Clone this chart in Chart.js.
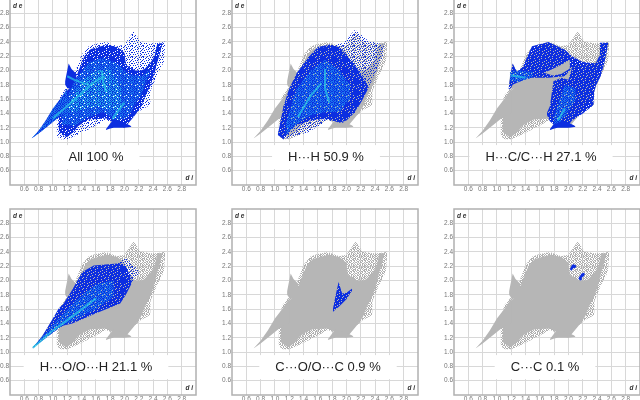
<!DOCTYPE html>
<html>
<head>
<meta charset="utf-8">
<style>
  html, body { margin: 0; background: #fff; overflow: hidden; width: 640px; height: 400px; }
  canvas { position: absolute; filter: blur(0.35px); }
</style>
<script src="https://cdn.jsdelivr.net/npm/chart.js@4"></script>
</head>
<body>
<script>
// tick labels shown on both axes
var tickValues = [0.6, 0.8, 1.0, 1.2, 1.4, 1.6, 1.8, 2.0, 2.2, 2.4, 2.6, 2.8];

var panelLabels = ['All 100 %', 'H···H 50.9 %', 'H···C/C···H 27.1 %', 'H···O/O···H 21.1 %', 'C···O/O···C 0.9 %', 'C···C 0.1 %'];
var labelCentres = [86, 94, 87, 86, 96, 91];

// outline of the whole fingerprint, sparse outer part
var outerDi  = [1.05, 1.10, 1.20, 1.30, 1.40, 1.50, 1.60, 1.74, 1.90, 2.00, 2.13, 2.22, 2.36, 2.365, 2.45, 2.55, 2.57];
var outerTop = [1.42, 1.65, 1.77, 1.95, 2.22, 2.34, 2.37, 2.40, 2.34, 2.36, 2.55, 2.41, 2.38, 2.38, 2.38, 2.40, 2.41];
var outerBot = [1.10, 1.04, 1.04, 1.08, 1.13, 1.18, 1.23, 1.31, 1.25, 1.24, 1.36, 1.44, 1.52, 1.72, 1.92, 2.12, 2.36];

// dense middle part
var coreDi  = [1.08, 1.16, 1.20, 1.30, 1.35, 1.44, 1.53, 1.75, 1.90, 2.00, 2.02, 2.15, 2.23, 2.28, 2.37, 2.42, 2.46, 2.50, 2.53];
var coreTop = [1.38, 1.55, 1.72, 1.82, 1.98, 2.20, 2.30, 2.36, 2.33, 2.25, 2.08, 2.00, 2.00, 2.02, 2.12, 2.20, 2.38, 2.38, 2.38];
var coreBot = [1.14, 1.08, 1.07, 1.15, 1.22, 1.28, 1.32, 1.33, 1.24, 1.20, 1.22, 1.38, 1.49, 1.62, 1.80, 1.96, 2.12, 2.25, 2.38];

var spikeDi  = [0.70, 0.80, 0.90, 1.00, 1.10, 1.20];
var spikeTop = [1.05, 1.16, 1.30, 1.47, 1.60, 1.75];
var spikeBot = [1.05, 1.12, 1.20, 1.28, 1.36, 1.40];

var hornDi  = [1.17, 1.20, 1.22, 1.26, 1.33];
var hornTop = [1.85, 2.00, 2.10, 2.02, 1.95];
var hornBot = [1.80, 1.76, 1.75, 1.75, 1.75];

var tailDi  = [1.74, 1.80, 1.85, 2.00, 2.08, 2.10];
var tailTop = [1.18, 1.26, 1.32, 1.27, 1.23, 1.21];
var tailBot = [1.17, 1.19, 1.20, 1.20, 1.21, 1.21];

// All: lighter inner area and bright ridges
var allMidDi  = [1.12, 1.30, 1.50, 1.70, 1.90, 2.05, 2.25, 2.35];
var allMidTop = [1.45, 1.85, 2.12, 2.18, 2.10, 1.95, 1.92, 2.02];
var allMidBot = [1.25, 1.22, 1.35, 1.42, 1.30, 1.35, 1.70, 1.95];
var allInnerDi  = [1.20, 1.40, 1.60, 1.80, 1.95];
var allInnerTop = [1.50, 1.85, 2.00, 2.02, 1.75];
var allInnerBot = [1.42, 1.45, 1.50, 1.45, 1.45];
var allRidgeAx = [1.00, 1.25, 1.40, 1.55, 1.72];
var allRidgeAy = [1.33, 1.55, 1.68, 1.82, 1.92];
var allRidgeBx = [1.83, 1.92, 2.00];
var allRidgeBy = [1.32, 1.45, 1.55];
var allRidgeCx = [1.68, 1.70, 1.75];
var allRidgeCy = [2.00, 1.85, 1.70];
var allRidgeDx = [1.20, 1.30, 1.50];
var allRidgeDy = [1.92, 1.87, 1.80];

// H...H
var hhOutDi  = [1.04, 1.12, 1.30, 1.47, 1.74, 1.95, 2.12, 2.30, 2.51, 2.54];
var hhOutTop = [1.10, 1.50, 1.95, 2.20, 2.36, 2.38, 2.57, 2.42, 2.36, 2.36];
var hhOutBot = [1.10, 1.04, 1.09, 1.14, 1.30, 1.27, 1.41, 1.74, 2.20, 2.36];
var hhDi  = [1.04, 1.12, 1.20, 1.30, 1.40, 1.50, 1.60, 1.75, 1.90, 2.00, 2.10, 2.20, 2.30];
var hhTop = [1.10, 1.50, 1.75, 1.95, 2.10, 2.22, 2.33, 2.36, 2.33, 2.22, 2.10, 1.95, 1.78];
var hhBot = [1.10, 1.04, 1.15, 1.24, 1.27, 1.30, 1.32, 1.32, 1.27, 1.30, 1.40, 1.55, 1.74];
var hhMidDi  = [1.15, 1.30, 1.50, 1.70, 1.90, 2.05];
var hhMidTop = [1.25, 1.75, 2.00, 2.15, 2.00, 1.80];
var hhMidBot = [1.10, 1.25, 1.38, 1.42, 1.42, 1.60];
var hhRidgeAx = [1.32, 1.50, 1.65];
var hhRidgeAy = [1.35, 1.65, 1.82];
var hhRidgeBx = [1.70, 1.70, 1.76];
var hhRidgeBy = [2.02, 1.75, 1.55];

// H...C upper and lower wing
var hcUpDi  = [1.16, 1.20, 1.22, 1.28, 1.36, 1.49, 1.72, 1.95, 2.05, 2.20, 2.39];
var hcUpTop = [1.73, 2.00, 2.10, 1.98, 2.05, 2.34, 2.40, 2.29, 2.20, 2.12, 2.10];
var hcUpBot = [1.73, 1.76, 1.80, 1.83, 1.86, 1.90, 1.90, 1.92, 2.04, 2.04, 2.08];
var hcIslandDi  = [1.66, 1.78, 1.90, 2.02];
var hcIslandTop = [1.97, 2.02, 2.08, 2.15];
var hcIslandBot = [1.97, 1.93, 1.95, 2.03];
var hcLowDi  = [1.70, 1.74, 1.79, 1.90, 2.00, 2.05, 2.20, 2.33, 2.35, 2.36, 2.38, 2.43, 2.44, 2.45, 2.50, 2.56];
var hcLowTop = [1.41, 1.50, 1.85, 1.90, 1.87, 2.04, 2.06, 2.09, 2.09, 2.09, 2.10, 2.20, 2.39, 2.39, 2.39, 2.39];
var hcLowBot = [1.38, 1.29, 1.25, 1.25, 1.24, 1.30, 1.40, 1.50, 1.53, 1.70, 1.78, 1.88, 1.90, 1.92, 2.10, 2.39];
var hcMidDi  = [1.18, 1.30, 1.50];
var hcMidTop = [1.98, 2.00, 1.98];
var hcMidBot = [1.85, 1.84, 1.91];
var hcMid2Di  = [1.80, 1.88, 1.95, 2.10];
var hcMid2Top = [1.35, 1.60, 1.80, 1.75];
var hcMid2Bot = [1.25, 1.28, 1.35, 1.60];
var hcRidgeAx = [1.20, 1.40];
var hcRidgeAy = [1.93, 1.90];
var hcRidgeBx = [1.85, 1.95];
var hcRidgeBy = [1.30, 1.47];

// H...O
var hoDi  = [0.71, 0.85, 1.00, 1.08, 1.15, 1.27, 1.41, 1.57, 1.94, 2.02, 2.10];
var hoTop = [1.05, 1.22, 1.47, 1.61, 1.68, 1.87, 2.12, 2.21, 2.24, 2.20, 2.02];
var hoBot = [1.05, 1.16, 1.27, 1.33, 1.37, 1.40, 1.46, 1.53, 1.68, 1.80, 1.96];
var hoSparseDi  = [1.90, 2.01, 2.20];
var hoSparseTop = [2.24, 2.33, 2.14];
var hoSparseBot = [1.68, 1.85, 2.10];
var hoMidDi  = [0.72, 1.00, 1.30, 1.60, 1.85];
var hoMidTop = [1.07, 1.38, 1.70, 1.95, 2.00];
var hoMidBot = [1.05, 1.30, 1.45, 1.60, 1.78];
var hoRidgeAx = [0.72, 1.00, 1.30, 1.60];
var hoRidgeAy = [1.06, 1.30, 1.52, 1.75];

// C...O
var coDi  = [1.81, 1.85, 1.89, 1.94, 2.00, 2.08];
var coTop = [1.60, 1.80, 1.98, 1.82, 1.83, 1.89];
var coBot = [1.56, 1.60, 1.63, 1.68, 1.74, 1.86];

// C...C, two small spots
var ccDi = [2.04, 2.05, 2.06, 2.07, 2.08, 2.09, 2.16, 2.17, 2.18, 2.19, 2.20, 2.21, 2.17];
var ccDe = [2.16, 2.18, 2.20, 2.21, 2.19, 2.20, 2.03, 2.05, 2.06, 2.08, 2.07, 2.09, 2.02];

var LOOSE = ['x..x...x.x.', '..x..x.....', 'x.....x.x..', '...x.x....x', '.x.......x.', '....x.x.x..', 'x.x.......x', '.....x..x..', '.x.x.....x.', '......x.x..', 'x...x.....x'];
var TIGHT = ['xxxxx.xxxxx', 'xx.xxxxxx.x', 'xxxxxxx.xxx', 'xxx.xxxxxxx', 'x.xxxxx.xxx', 'xxxxx.xxxx.', 'xxx.xxxxxxx', '.xxxxxx.xxx', 'xxxx.xxxxx.', 'xx.xxxxxxxx', 'xxxxxx.xx.x'];
var HALF  = ['x.xx.x.xx.x', '.x..xx.x.x.', 'xx.x..x.x.x', '.x.xx.x..xx', 'x.x..x.xx.x', 'x..xx.x.x..', '.xx.x.xx..x', 'x..x.x..xx.', '.x.xx.x.x.x', 'x.x..xx.x.x', '.x.x.x.x.xx'];

function stipple(color, rows) {
  // fixed tile so sparse areas look like loose dots
  var c = document.createElement('canvas');
  c.width = c.height = 11;
  var g = c.getContext('2d');
  g.fillStyle = color;
  rows.forEach(function (r, y) {
    for (var x = 0; x < 11; x++) if (r[x] === 'x') g.fillRect(x, y, 1, 1);
  });
  return g.createPattern(c, 'repeat');
}

var GREY = '#b6b6b6', BLUE = '#0c2ee0', MID = '#1a74ec', CYAN = 'rgba(44,205,230,0.7)';
var BLUE_DOTS = stipple(BLUE, TIGHT), MID_DOTS = stipple(MID, HALF), INNER = stipple('#22a4ea', HALF);

function greyBase() {
  return [
    band(outerDi, outerTop, outerBot, stipple('#b0b0b0', HALF)),
    band(coreDi, coreTop, coreBot, GREY),
    band(spikeDi, spikeTop, spikeBot, GREY),
    band(hornDi, hornTop, hornBot, GREY),
    band(tailDi, tailTop, tailBot, GREY)
  ];
}

function band(di, top, bot, fill) { return { di: di, top: top, bot: bot, fill: fill }; }
function ridge(x, y, w) { return { x: x, y: y, w: w || 2 }; }
function xy(x, y) { return x.map(function (v, i) { return { x: v, y: y[i] }; }); }

var panels = [
  {
    layers: [
      band(outerDi, outerTop, outerBot, stipple(BLUE, LOOSE)),
      band(coreDi, coreTop, coreBot, BLUE_DOTS),
      band(spikeDi, spikeTop, spikeBot, BLUE),
      band(spikeDi, spikeTop, spikeBot, MID_DOTS),
      band(hornDi, hornTop, hornBot, BLUE),
      band(tailDi, tailTop, tailBot, BLUE),
      band(allMidDi, allMidTop, allMidBot, MID_DOTS),
      band(allInnerDi, allInnerTop, allInnerBot, INNER)
    ],
    ridges: [ridge(allRidgeAx, allRidgeAy), ridge(allRidgeBx, allRidgeBy), ridge(allRidgeCx, allRidgeCy), ridge(allRidgeDx, allRidgeDy)]
  },
  {
    layers: greyBase().concat([
      band(hhOutDi, hhOutTop, hhOutBot, stipple(BLUE, LOOSE)),
      band(hhDi, hhTop, hhBot, BLUE_DOTS),
      band(hhMidDi, hhMidTop, hhMidBot, MID_DOTS)
    ]),
    ridges: [ridge(hhRidgeAx, hhRidgeAy), ridge(hhRidgeBx, hhRidgeBy)]
  },
  {
    layers: greyBase().concat([
      band(hcUpDi, hcUpTop, hcUpBot, BLUE_DOTS),
      band(hcIslandDi, hcIslandTop, hcIslandBot, GREY),
      band(hcLowDi, hcLowTop, hcLowBot, BLUE_DOTS),
      band(tailDi, tailTop, tailBot, BLUE),
      band(hcMidDi, hcMidTop, hcMidBot, MID_DOTS),
      band(hcMid2Di, hcMid2Top, hcMid2Bot, MID_DOTS)
    ]),
    ridges: [ridge(hcRidgeAx, hcRidgeAy), ridge(hcRidgeBx, hcRidgeBy)]
  },
  {
    layers: greyBase().concat([
      band(hoSparseDi, hoSparseTop, hoSparseBot, stipple(BLUE, LOOSE)),
      band(hoDi, hoTop, hoBot, BLUE_DOTS),
      band(hoMidDi, hoMidTop, hoMidBot, MID_DOTS)
    ]),
    ridges: [ridge(hoRidgeAx, hoRidgeAy)]
  },
  {
    layers: greyBase().concat([band(coDi, coTop, coBot, BLUE_DOTS)]),
    ridges: []
  },
  {
    layers: greyBase(),
    ridges: [],
    spots: xy(ccDi, ccDe)
  }
];

// draws frame, axis letters and the white caption box
var panelDecor = {
  id: 'panelDecor',
  afterDatasetsDraw: function (chart, args, opts) {
    var a = chart.chartArea, ctx = chart.ctx;
    ctx.save();
    ctx.font = '13px "Liberation Sans"';
    var w = ctx.measureText(opts.text).width;
    var cx = a.left + opts.cx, cy = chart.scales.y.getPixelForValue(0.79);
    ctx.fillStyle = '#fff';
    ctx.fillRect(cx - w / 2 - 16, cy - 12, w + 32, 24);
    ctx.fillStyle = '#222';
    ctx.textAlign = 'center';
    ctx.textBaseline = 'middle';
    ctx.fillText(opts.text, cx, cy);
    ctx.font = 'italic bold 6.5px "Liberation Sans"';
    ctx.fillStyle = '#333';
    ctx.textAlign = 'left';
    ctx.fillText('d e', a.left + 3, a.top + 7);
    ctx.textAlign = 'right';
    ctx.fillText('d i', a.right - 3, a.bottom - 7);
    ctx.strokeStyle = '#b0b0b0';
    ctx.lineWidth = 1.5;
    ctx.strokeRect(a.left, a.top, a.right - a.left, a.bottom - a.top);
    ctx.restore();
  }
};

function axis(pos, size) {
  return {
    type: 'linear',
    position: pos,
    min: 0.4,
    max: 3.0,
    afterBuildTicks: function (s) { s.ticks = tickValues.map(function (v) { return { value: v }; }); },
    afterFit: function (s) { if (pos === 'left') s.width = size; else s.height = size; },
    grid: { color: '#d8d8d8', lineWidth: 1, drawTicks: false },
    border: { display: false },
    ticks: {
      autoSkip: false,
      maxRotation: 0,
      padding: pos === 'left' ? 1 : 0,
      color: '#777',
      font: { family: '"Liberation Sans"', size: 6.5 },
      callback: function (v) { return v.toFixed(1); }
    }
  };
}

var lefts = [0, 222, 444], tops = [-9, 201];

panels.forEach(function (p, i) {
  var cv = document.createElement('canvas');
  cv.width = 200;
  cv.height = 206;
  cv.style.left = lefts[i % 3] + 'px';
  cv.style.top = tops[Math.floor(i / 3)] + 'px';
  document.body.appendChild(cv);

  // chart paints the last dataset first, so go through the layers backwards
  var sets = [];
  if (p.spots) sets.push({ data: p.spots, pointRadius: 1.3, backgroundColor: BLUE, borderWidth: 0 });
  p.ridges.forEach(function (r) {
    sets.push({ data: xy(r.x, r.y), showLine: true, pointRadius: 0, borderColor: CYAN, borderWidth: r.w, fill: false });
  });
  for (var k = p.layers.length - 1; k >= 0; k--) {
    var l = p.layers[k];
    sets.push({ data: xy(l.di, l.top), showLine: true, pointRadius: 0, borderWidth: 0, backgroundColor: l.fill, fill: '+1' });
    sets.push({ data: xy(l.di, l.bot), showLine: true, pointRadius: 0, borderWidth: 0, fill: false });
  }

  new Chart(cv, {
    type: 'scatter',
    data: { datasets: sets },
    plugins: [panelDecor],
    options: {
      responsive: false,
      animation: false,
      layout: { padding: { top: 8, right: 4, left: 0, bottom: 0 } },
      scales: { x: axis('bottom', 12), y: axis('left', 10) },
      plugins: {
        legend: { display: false },
        tooltip: { enabled: false },
        panelDecor: { text: panelLabels[i], cx: labelCentres[i] }
      }
    }
  });
});
</script>
</body>
</html>
